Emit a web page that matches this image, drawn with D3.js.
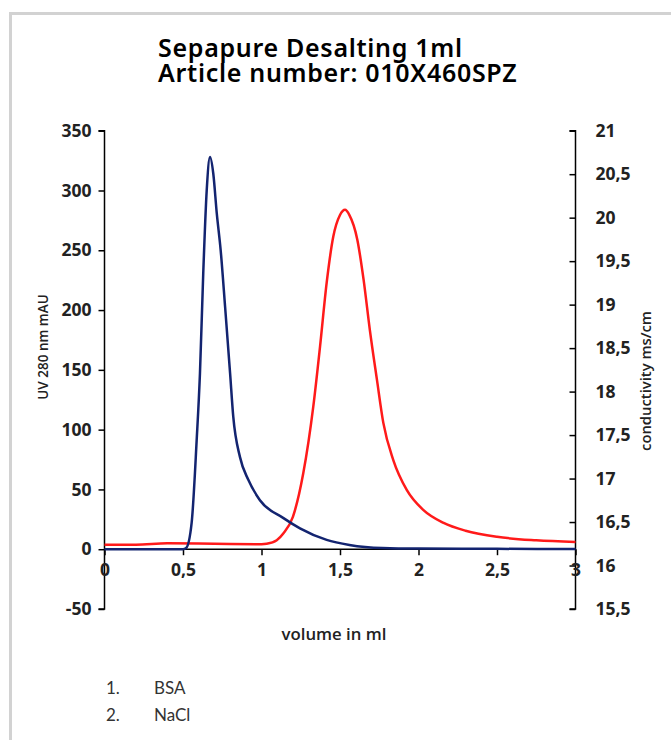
<!DOCTYPE html>
<html>
<head>
<meta charset="utf-8">
<script src="https://cdn.jsdelivr.net/npm/d3@7"></script>
<style>
  html, body { margin: 0; padding: 0; background: #fff; }
  svg { display: block; }
</style>
</head>
<body>
<svg id="chart" width="671" height="740"></svg>
<script>
// ---- data ----
const titleLines = ["Sepapure Desalting 1ml", "Article number: 010X460SPZ"];
const listItems = ["BSA", "NaCl"];
const xTicks = [0, 0.5, 1, 1.5, 2, 2.5, 3];
const yLeftTicks = [-50, 0, 50, 100, 150, 200, 250, 300, 350];
const yRightTicks = [15.5, 16, 16.5, 17, 17.5, 18, 18.5, 19, 19.5, 20, 20.5, 21];

// BSA UV 280 nm (mAU) vs volume (ml)
const bsaVolume = [0, 0.2, 0.4, 0.5, 0.52, 0.555, 0.587, 0.608, 0.629, 0.651, 0.672, 0.693, 0.715, 0.74, 0.768, 0.80, 0.82, 0.863, 0.916, 0.99, 1.14, 1.245, 1.415, 1.56, 1.77, 2.0, 2.5, 3.0];
const bsaUV =     [0, 0,   0,   0,   1,    22,    91,    147,   231,   300,   328,   314,   281,   250,  203,   147,  111,  77,    58,    41,   26,   17.5,  7.8,   3.6,  1,    0.5, 0.3, 0.2];

// NaCl conductivity (mS/cm) vs volume (ml)
const naclVolume = [0, 0.2, 0.4, 0.7, 1.0, 1.033, 1.097, 1.14, 1.20, 1.266, 1.33, 1.373, 1.415, 1.457, 1.50, 1.532, 1.56, 1.61, 1.65, 1.69, 1.735, 1.776, 1.84, 1.925, 2.03, 2.16, 2.3, 2.5, 2.75, 3.0];
const naclCond =   [16.24, 16.24, 16.255, 16.25, 16.245, 16.25, 16.29, 16.37, 16.56, 17.06, 17.83, 18.52, 19.25, 19.78, 20.03, 20.09, 20.03, 19.75, 19.29, 18.71, 18.14, 17.64, 17.21, 16.87, 16.64, 16.49, 16.40, 16.33, 16.29, 16.27];

// ---- layout ----
const svg = d3.select("#chart");
const L = 104.5, R = 575.5, T = 130.7, B = 609;

const x = d3.scaleLinear().domain([0, 3]).range([L, R]);
const yL = d3.scaleLinear().domain([-50, 350]).range([B, T]);
const yR = d3.scaleLinear().domain([15.5, 21]).range([B, T]);

// frame
svg.append("path")
  .attr("d", `M10.5,740 L10.5,13.5 L671,13.5`)
  .attr("fill", "none").attr("stroke", "#d2d2d2").attr("stroke-width", 3);

// title
const title = svg.append("text")
  .attr("font-family", "'Noto Sans', sans-serif")
  .attr("font-size", 25).attr("font-weight", 600).attr("letter-spacing", 0.7)
  .attr("fill", "#000");
titleLines.forEach((t, i) => {
  title.append("tspan").attr("x", 158).attr("y", 57 + i * 25).text(t);
});

const tickFont = "'Open Sans', sans-serif";

// left axis
const gL = svg.append("g").attr("transform", `translate(${L},0)`)
  .call(d3.axisLeft(yL).tickValues(yLeftTicks).tickSize(6).tickPadding(7)
    .tickFormat(d => String(d)));
// right axis (ticks pointing inward)
const gR = svg.append("g").attr("transform", `translate(${R},0)`)
  .call(d3.axisRight(yR).tickValues(yRightTicks).tickSize(-6).tickPadding(20)
    .tickFormat(d => String(d).replace(".", ",")));
// x axis at zero line
const gX = svg.append("g").attr("transform", `translate(0,${yL(0)})`)
  .call(d3.axisBottom(x).tickValues(xTicks).tickSize(6).tickPadding(7)
    .tickFormat(d => String(d).replace(".", ",")));

[gL, gR, gX].forEach(g => {
  g.select(".domain").attr("stroke", "#000").attr("stroke-width", 1.5);
  g.selectAll(".tick line").attr("stroke", "#000").attr("stroke-width", 1.5);
  g.selectAll(".tick text").attr("font-family", tickFont).attr("font-size", 17.5)
    .attr("font-weight", 700).attr("fill", "#222");
});
gL.select(".domain").attr("d", `M-6,${B}H0V${T}H-6`);
gR.select(".domain").attr("d", `M-6,${B}H0V${T}H-6`);
gX.select(".domain").attr("d", `M${L},0H${R}`);
gX.selectAll(".tick text").attr("dy", "0.8em");

// lines
const lineBSA = d3.line().x((d, i) => x(bsaVolume[i])).y(d => yL(d)).curve(d3.curveMonotoneX);
const lineNaCl = d3.line().x((d, i) => x(naclVolume[i])).y(d => yR(d)).curve(d3.curveMonotoneX);

svg.append("path").datum(naclCond).attr("d", lineNaCl)
  .attr("fill", "none").attr("stroke", "#ff1a1a").attr("stroke-width", 2.5);
svg.append("path").datum(bsaUV).attr("d", lineBSA)
  .attr("fill", "none").attr("stroke", "#132470").attr("stroke-width", 2.5);

// axis titles
svg.append("text")
  .attr("transform", `translate(48,${347}) rotate(-90)`)
  .attr("text-anchor", "middle").attr("font-family", tickFont)
  .attr("font-size", 13.5).attr("font-weight", 600).attr("fill", "#222")
  .text("UV 280 nm mAU");
svg.append("text")
  .attr("transform", `translate(651,${381}) rotate(-90)`)
  .attr("text-anchor", "middle").attr("font-family", tickFont)
  .attr("font-size", 14.8).attr("font-weight", 600).attr("fill", "#222")
  .text("conductivity ms/cm");
svg.append("text")
  .attr("x", 334).attr("y", 640)
  .attr("text-anchor", "middle").attr("font-family", tickFont)
  .attr("font-size", 16.8).attr("font-weight", 600).attr("fill", "#222")
  .text("volume in ml");

// numbered list
listItems.forEach((t, i) => {
  const yy = 694 + i * 27;
  svg.append("text").attr("x", 106).attr("y", yy)
    .attr("font-family", "Lato, sans-serif").attr("font-size", 17).attr("fill", "#333")
    .text((i + 1) + ".");
  svg.append("text").attr("x", 154).attr("y", yy)
    .attr("font-family", "Lato, sans-serif").attr("font-size", 17).attr("fill", "#333")
    .text(t);
});
</script>
</body>
</html>
